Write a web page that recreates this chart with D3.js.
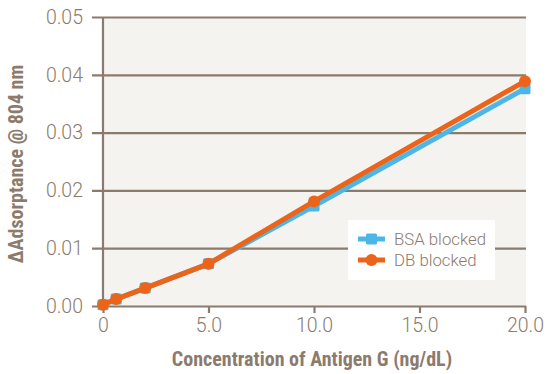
<!DOCTYPE html>
<html><head><meta charset="utf-8">
<script src="https://cdn.jsdelivr.net/npm/d3@7"></script>
<style>body{margin:0;background:#fff}svg{display:block}</style>
</head><body>
<svg id="c" width="549" height="374"></svg>
<script>
const concentration = [0, 0.625, 2, 5, 10, 20];
const bsaBlocked = [0.0002, 0.0012, 0.0031, 0.0073, 0.0173, 0.0376];
const dbBlocked  = [0.0002, 0.0012, 0.0031, 0.0073, 0.0181, 0.0389];
const xTicks = [0, 5, 10, 15, 20];
const xTickLabels = ["0", "5.0", "10.0", "15.0", "20.0"];
const yTicks = [0, 0.01, 0.02, 0.03, 0.04, 0.05];
const seriesNames = ["BSA blocked", "DB blocked"];

const axisCol = "#8c7b6d", blue = "#4cb6e6", orange = "#eb6419";
const svg = d3.select("#c");
const x = d3.scaleLinear().domain([0, 20]).range([103, 525]);
const y = d3.scaleLinear().domain([0, 0.05]).range([306, 17]);

svg.append("rect").attr("x", x(0)).attr("y", y(0.05)).attr("width", 526 - x(0)).attr("height", y(0) - y(0.05)).attr("fill", "#f5f3ef");

// gridlines + y ticks
const yAxis = d3.axisLeft(y).tickValues(yTicks).tickFormat(d3.format(".2f")).tickSize(-(526 - 92)).tickPadding(9);
const gy = svg.append("g").attr("transform", `translate(92,0)`).call(yAxis);
gy.select(".domain").remove();
gy.selectAll(".tick line").attr("stroke", axisCol).attr("stroke-width", 2.2);
gy.selectAll(".tick text").attr("fill", axisCol).attr("font-family", "Roboto, sans-serif").attr("font-weight", 300).attr("font-size", 19.5).attr("x", -9);

// y axis line
svg.append("line").attr("x1", x(0)).attr("x2", x(0)).attr("y1", y(0.05)).attr("y2", y(0) + 1).attr("stroke", axisCol).attr("stroke-width", 2.2);

// x axis ticks
const xAxis = d3.axisBottom(x).tickValues(xTicks).tickFormat((d, i) => xTickLabels[i]).tickSize(7).tickPadding(5);
const gx = svg.append("g").attr("transform", `translate(0,${y(0)})`).call(xAxis);
gx.select(".domain").remove();
gx.selectAll(".tick line").attr("stroke", axisCol).attr("stroke-width", 2.2);
gx.selectAll(".tick text").attr("fill", axisCol).attr("font-family", "Roboto, sans-serif").attr("font-weight", 300).attr("font-size", 19.5);

const line = d3.line().x((d, i) => x(concentration[i])).y(d => y(d));

svg.append("path").datum(bsaBlocked).attr("d", line).attr("fill", "none").attr("stroke", blue).attr("stroke-width", 5).attr("stroke-linejoin", "round");
svg.selectAll(".bsa").data(bsaBlocked).enter().append("rect").attr("class", "bsa")
  .attr("x", (d, i) => x(concentration[i]) - 5.5).attr("y", d => y(d) - 5.5).attr("width", 11).attr("height", 11).attr("rx", 1.5).attr("fill", blue);

svg.append("path").datum(dbBlocked).attr("d", line).attr("fill", "none").attr("stroke", orange).attr("stroke-width", 5).attr("stroke-linejoin", "round");
svg.selectAll(".db").data(dbBlocked).enter().append("circle").attr("class", "db")
  .attr("cx", (d, i) => x(concentration[i])).attr("cy", d => y(d)).attr("r", 6).attr("fill", orange);

// legend
const lg = svg.append("g");
lg.append("rect").attr("x", 348).attr("y", 220).attr("width", 147).attr("height", 60).attr("fill", "#fff");
[blue, orange].forEach((c, i) => {
  const yy = 239 + i * 21;
  lg.append("line").attr("x1", 358).attr("x2", 385).attr("y1", yy).attr("y2", yy).attr("stroke", c).attr("stroke-width", 5);
  if (i === 0) lg.append("rect").attr("x", 366).attr("y", yy - 5.5).attr("width", 11).attr("height", 11).attr("rx", 1.5).attr("fill", c);
  else lg.append("circle").attr("cx", 371.5).attr("cy", yy).attr("r", 6).attr("fill", c);
  lg.append("text").attr("x", 394).attr("y", yy + 6).text(seriesNames[i]).attr("fill", axisCol)
    .attr("font-family", "Roboto, sans-serif").attr("font-weight", 300).attr("font-size", 16.8);
});

// axis titles
svg.append("text").attr("x", 312).attr("y", 366).attr("text-anchor", "middle").text("Concentration of Antigen G (ng/dL)")
  .attr("fill", axisCol).attr("font-family", "'Liberation Sans Narrow', 'Roboto Condensed', sans-serif").attr("font-weight", 700).attr("font-size", 20);
svg.append("text").attr("transform", "translate(23,164) rotate(-90)").attr("text-anchor", "middle").text("ΔAdsorptance @ 804 nm")
  .attr("fill", axisCol).attr("font-family", "'Liberation Sans Narrow', 'Roboto Condensed', sans-serif").attr("font-weight", 700).attr("font-size", 20);
</script>
</body></html>
